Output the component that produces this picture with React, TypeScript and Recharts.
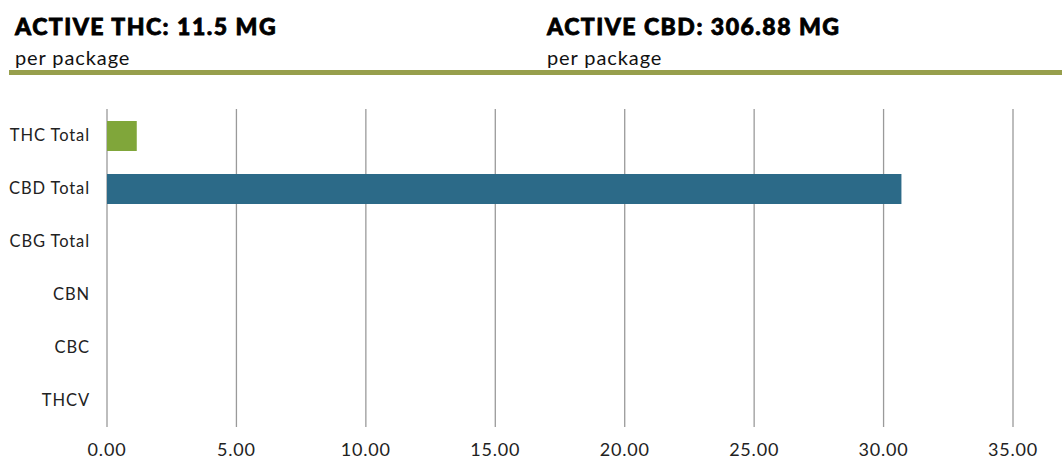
import React from "react";
import { BarChart, Bar, XAxis, YAxis, CartesianGrid, Cell } from "recharts";

const categories = ["THC Total", "CBD Total", "CBG Total", "CBN", "CBC", "THCV"];
const values = [1.15, 30.69, 0, 0, 0, 0];
const colors = ["#80A63A", "#2C6A88", "#2C6A88", "#2C6A88", "#2C6A88", "#2C6A88"];
const xTicks = [0, 5, 10, 15, 20, 25, 30, 35];
const headings = [
  { title: "ACTIVE THC: 11.5 MG", sub: "per package" },
  { title: "ACTIVE CBD: 306.88 MG", sub: "per package" },
];

const data = categories.map((name, i) => ({ name, value: values[i] }));

const FONT = "'Lato', 'DejaVu Sans', sans-serif";

export default function App() {
  return (
    <div style={{ position: "absolute", left: 0, top: 0, width: 1062, height: 459, background: "#fff", fontFamily: FONT, overflow: "hidden" }}>
      {headings.map((h, i) => (
        <div key={i} style={{ position: "absolute", left: i === 0 ? 15 : 547, top: 11 }}>
          <div style={{ fontSize: 23, fontWeight: 900, color: "#000", lineHeight: "30px", letterSpacing: 1.5, WebkitTextStroke: "0.8px #000" }}>{h.title}</div>
          <div style={{ fontSize: 20, color: "#111", lineHeight: "24px", marginTop: 4, letterSpacing: 0.9 }}>{h.sub}</div>
        </div>
      ))}
      <div style={{ position: "absolute", left: 9, top: 70, width: 1053, height: 5, background: "#979F4C" }} />
      <div style={{ position: "absolute", left: 0, top: 90 }}>
        <BarChart
          width={1062}
          height={369}
          data={data}
          layout="vertical"
          margin={{ top: 19, right: 49, bottom: 0, left: 0 }}
          barSize={30}
        >
          <CartesianGrid horizontal={false} vertical={true} stroke="#9A9A9A" strokeWidth={1.3} />
          <XAxis
            type="number"
            domain={[0, 35]}
            ticks={xTicks}
            tickFormatter={(v: number) => v.toFixed(2)}
            axisLine={false}
            tickLine={false}
            height={32}
            tickMargin={10}
            tick={{ fill: "#222", fontSize: 18, fontFamily: FONT, letterSpacing: 0.8 }}
            interval={0}
          />
          <YAxis
            type="category"
            dataKey="name"
            width={107}
            axisLine={false}
            tickLine={false}
            tickMargin={11}
            tick={{ fill: "#222", fontSize: 16.5, fontFamily: FONT, letterSpacing: 0.9 }}
            interval={0}
          />
          <Bar dataKey="value" isAnimationActive={false}>
            {data.map((d, i) => (
              <Cell key={d.name} fill={colors[i]} />
            ))}
          </Bar>
        </BarChart>
      </div>
    </div>
  );
}
